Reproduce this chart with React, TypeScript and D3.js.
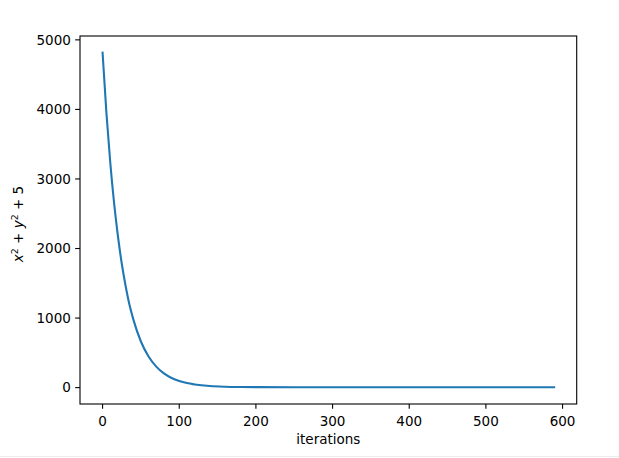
import React from "react";
import * as d3 from "d3";

const iterations = [0, 5, 10, 15, 20, 25, 30, 35, 40, 50, 60, 70, 80, 90, 100, 110, 120, 140, 160, 180, 200, 250, 300, 400, 500, 589];
const values = [4815, 3950, 3240, 2655, 2180, 1785, 1465, 1195, 985, 663, 447, 302, 204, 139, 95, 65, 46, 23, 13, 8.7, 6.7, 5.2, 5, 5, 5, 5];
const xTicks = [0, 100, 200, 300, 400, 500, 600];
const yTicks = [0, 1000, 2000, 3000, 4000, 5000];

const W = 619;
const H = 458;
const left = 80, right = 576.7, top = 36, bottom = 404;

export default function App() {
  const xMin = d3.min(iterations)!, xMax = d3.max(iterations)!;
  const yMin = d3.min(values)!, yMax = d3.max(values)!;
  const xPad = (xMax - xMin) * 0.05;
  const yPad = (yMax - yMin) * 0.05;
  const x = d3.scaleLinear().domain([xMin - xPad, xMax + xPad]).range([left, right]);
  const y = d3.scaleLinear().domain([yMin - yPad, yMax + yPad]).range([bottom, top]);
  const pts: [number, number][] = iterations.map((it, i) => [it, values[i]]);
  const line = d3.line<[number, number]>().x(d => x(d[0])).y(d => y(d[1])).curve(d3.curveMonotoneX);
  const font = "'DejaVu Sans', sans-serif";
  const fs = 13.5;
  const tl = 4.86;
  return (
    <svg width={W} height={H} style={{ position: "absolute", left: 0, top: 0, background: "#fff" }} fontFamily={font}>
      <rect x={0} y={0} width={W} height={H} fill="#fff" />
      <path d={line(pts)!} fill="none" stroke="#1f77b4" strokeWidth={2.08} strokeLinejoin="round" strokeLinecap="square" />
      <rect x={left} y={top} width={right - left} height={bottom - top} fill="none" stroke="#000" strokeWidth={1.1} />
      {xTicks.map(t => (
        <g key={"x" + t}>
          <line x1={x(t)} x2={x(t)} y1={bottom} y2={bottom + tl} stroke="#000" strokeWidth={1.1} />
          <text x={x(t)} y={425.5} textAnchor="middle" fontSize={fs} fill="#000">{t}</text>
        </g>
      ))}
      {yTicks.map(t => (
        <g key={"y" + t}>
          <line x1={left - tl} x2={left} y1={y(t)} y2={y(t)} stroke="#000" strokeWidth={1.1} />
          <text x={left - tl - 4.3} y={y(t)} dy="0.36em" textAnchor="end" fontSize={fs} fill="#000">{t}</text>
        </g>
      ))}
      <text x={(left + right) / 2} y={444} textAnchor="middle" fontSize={fs} fill="#000">iterations</text>
      <text transform={`translate(23,${(top + bottom) / 2 + 4}) rotate(-90)`} textAnchor="middle" fontSize={fs} fill="#000">
        <tspan fontStyle="italic">x</tspan>
        <tspan fontSize={fs * 0.7} dy={-5}>2</tspan>
        <tspan dy={5}> + </tspan>
        <tspan fontStyle="italic">y</tspan>
        <tspan fontSize={fs * 0.7} dy={-5}>2</tspan>
        <tspan dy={5}> + 5</tspan>
      </text>
      <line x1={0} x2={W} y1={456.5} y2={456.5} stroke="#ececec" strokeWidth={1} />
    </svg>
  );
}
